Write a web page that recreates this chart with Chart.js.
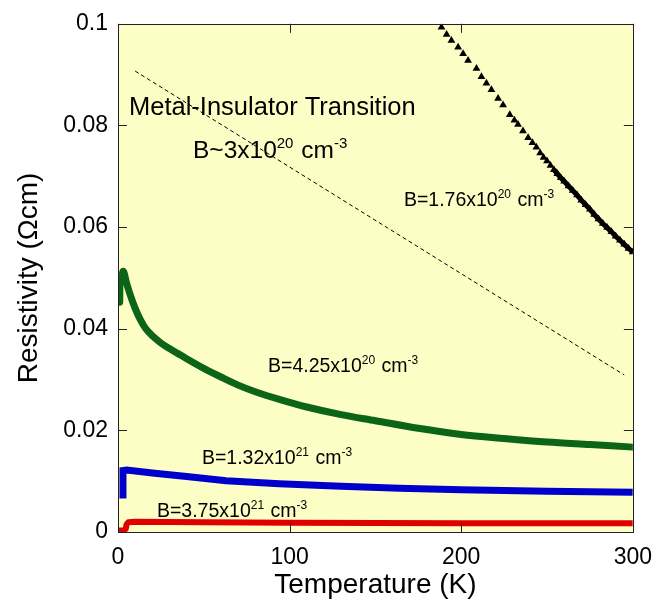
<!DOCTYPE html>
<html>
<head>
<meta charset="utf-8">
<script src="https://cdn.jsdelivr.net/npm/chart.js@4.4.0/dist/chart.umd.min.js"></script>
<style>
  html, body { margin: 0; padding: 0; background: #fff; }
  #wrap { width: 664px; height: 606px; }
</style>
</head>
<body>
<div id="wrap"><canvas id="rhoChart" width="664" height="606"></canvas></div>
<script>
// 축 눈금
const xTicks = [0, 100, 200, 300];
const yTicks = [0, 0.02, 0.04, 0.06, 0.08, 0.1];

// B=1.76x10^20 (삼각형)
const blackT = [188.5, 191.5, 194.3, 198.2, 201.1, 204.0, 208.9, 211.8, 214.7, 217.6, 221.5, 224.4,
    228.3, 231.0, 233.1, 236.0, 239.0, 241.5, 243.8, 246.0, 248.0, 250.0, 252.0, 254.0, 256.0,
    258.0, 260.0, 262.5, 265.0, 267.5, 270.0, 272.5, 275.0, 277.5, 280.0, 282.5, 285.0, 287.5,
    290.0, 292.5, 295.0, 297.5, 300.0];
const blackR = [0.0993, 0.0979, 0.0967, 0.0954, 0.0941, 0.0928, 0.0912, 0.0896, 0.0883, 0.0870, 0.0853, 0.0840,
    0.0821, 0.0810, 0.0802, 0.0789, 0.0776, 0.0766, 0.0757, 0.0746, 0.0737, 0.0730, 0.0721, 0.0713, 0.0705,
    0.0697, 0.0690, 0.0681, 0.0672, 0.0663, 0.0653, 0.0644, 0.0635, 0.0625, 0.0616, 0.0607, 0.0599, 0.0591,
    0.0582, 0.0574, 0.0566, 0.0558, 0.0551];

// B=4.25x10^20
const greenT = [1.0, 1.2, 2.0, 3.0, 5.0, 7.0, 10, 13, 16, 20, 25, 30, 35, 40, 50, 60, 70, 80, 95,
    110, 130, 150, 175, 200, 225, 250, 275, 300];
const greenR = [0.0452, 0.0500, 0.0500, 0.0513, 0.0490, 0.0468, 0.0440, 0.0418, 0.0401, 0.0386, 0.0372,
    0.0361, 0.0351, 0.0341, 0.0322, 0.0305, 0.0289, 0.0276, 0.0260, 0.0246, 0.0231, 0.0219, 0.0204,
    0.0192, 0.0184, 0.0177, 0.0172, 0.0167];

// B=1.32x10^21
const blueT = [2.9, 2.9, 5, 20, 40, 63, 94, 130, 164, 200, 250, 300];
const blueR = [0.0066, 0.0121, 0.0122, 0.0116, 0.0109, 0.0101, 0.0095, 0.0090, 0.0086, 0.0083, 0.0080, 0.0078];

// B=3.75x10^21
const redT = [0.5, 3.0, 4.5, 5.0, 6.0, 10, 50, 100, 200, 300];
const redR = [0.0003, 0.0003, 0.0006, 0.0015, 0.0019, 0.0020, 0.0019, 0.0018, 0.0017, 0.0017];

// 금속-절연체 전이 경계 (점선)
const mitT = [10, 295];
const mitR = [0.0907, 0.0309];

// 주석: 본문/위첨자 번갈아
const notes = [
    { t: 6.4, r: 0.0821, parts: ['Metal-Insulator Transition'], size: 25.5 },
    { t: 43.7, r: 0.0735, parts: ['B~3x10', '20', ' cm', '-3'], size: 24.5 },
    { t: 166.6, r: 0.0642, parts: ['B=1.76x10', '20', ' cm', '-3'], size: 19.5 },
    { t: 87.4, r: 0.0315, parts: ['B=4.25x10', '20', ' cm', '-3'], size: 19.5 },
    { t: 48.9, r: 0.0134, parts: ['B=1.32x10', '21', ' cm', '-3'], size: 19.5 },
    { t: 22.7, r: 0.0029, parts: ['B=3.75x10', '21', ' cm', '-3'], size: 19.5 }
];

const FONT = '"Liberation Sans", Arial, Helvetica, sans-serif';

function pts(xs, ys) {
    return xs.map(function(x, i) { return { x: x, y: ys[i] }; });
}

const plotBg = {
    id: 'plotBg',
    beforeDraw: function(chart) {
        const a = chart.chartArea, ctx = chart.ctx;
        ctx.save();
        ctx.fillStyle = '#fdfdc6';
        ctx.fillRect(a.left, a.top, a.right - a.left, a.bottom - a.top);
        ctx.restore();
    }
};

// 안쪽 눈금 + 테두리
const frameTicks = {
    id: 'frameTicks',
    afterDatasetsDraw: function(chart) {
        const a = chart.chartArea, ctx = chart.ctx;
        const sx = chart.scales.x, sy = chart.scales.y;
        const len = 9;
        ctx.save();
        ctx.strokeStyle = '#222';
        ctx.lineWidth = 1;
        ctx.beginPath();
        xTicks.forEach(function(v) {
            const px = Math.round(sx.getPixelForValue(v)) + 0.5;
            ctx.moveTo(px, a.bottom); ctx.lineTo(px, a.bottom - len);
            ctx.moveTo(px, a.top); ctx.lineTo(px, a.top + len);
        });
        yTicks.forEach(function(v) {
            const py = Math.round(sy.getPixelForValue(v)) + 0.5;
            ctx.moveTo(a.left, py); ctx.lineTo(a.left + len, py);
            ctx.moveTo(a.right, py); ctx.lineTo(a.right - len, py);
        });
        ctx.stroke();
        ctx.strokeRect(Math.round(a.left) + 0.5, Math.round(a.top) + 0.5,
            Math.round(a.right - a.left), Math.round(a.bottom - a.top));
        ctx.restore();
    }
};

// 위첨자 포함 주석
const noteText = {
    id: 'noteText',
    afterDatasetsDraw: function(chart) {
        const ctx = chart.ctx;
        const sx = chart.scales.x, sy = chart.scales.y;
        ctx.save();
        ctx.fillStyle = '#000';
        ctx.textBaseline = 'alphabetic';
        ctx.textAlign = 'left';
        notes.forEach(function(n) {
            let x = sx.getPixelForValue(n.t);
            const y = sy.getPixelForValue(n.r);
            n.parts.forEach(function(p, i) {
                const sup = i % 2 === 1;
                const fs = sup ? Math.round(n.size * 0.62) : n.size;
                ctx.font = fs + 'px ' + FONT;
                ctx.fillText(p, x, sup ? y - n.size * 0.42 : y);
                x += ctx.measureText(p).width + (sup ? 1 : 0);
            });
        });
        ctx.restore();
    }
};

const ctx = document.getElementById('rhoChart').getContext('2d');
new Chart(ctx, {
    type: 'scatter',
    data: {
        datasets: [
            {
                label: 'MIT',
                data: pts(mitT, mitR),
                showLine: true,
                borderColor: '#000',
                borderWidth: 1,
                borderDash: [4, 3],
                pointRadius: 0
            },
            {
                label: 'B=3.75x10^21',
                data: pts(redT, redR),
                showLine: true,
                borderColor: '#e00000',
                borderWidth: 6,
                borderJoinStyle: 'round',
                pointRadius: 0
            },
            {
                label: 'B=1.32x10^21',
                data: pts(blueT, blueR),
                showLine: true,
                borderColor: '#0000cc',
                borderWidth: 7,
                pointRadius: 0
            },
            {
                label: 'B=4.25x10^20',
                data: pts(greenT, greenR),
                showLine: true,
                borderColor: '#0b6418',
                borderWidth: 7,
                borderJoinStyle: 'round',
                borderCapStyle: 'round',
                cubicInterpolationMode: 'monotone',
                pointRadius: 0
            },
            {
                label: 'B=1.76x10^20',
                data: pts(blackT, blackR),
                showLine: true,
                borderColor: '#000',
                borderWidth: 5,
                segment: {
                    borderColor: function(c) { return c.p0.parsed.x >= 253 ? '#000' : 'rgba(0,0,0,0)'; }
                },
                pointStyle: 'triangle',
                pointRadius: 4.5,
                pointBackgroundColor: '#000',
                pointBorderColor: '#000',
                pointBorderWidth: 0
            }
        ]
    },
    options: {
        responsive: false,
        animation: false,
        events: [],
        layout: { padding: { top: 18, right: 31, left: 0, bottom: 0 } },
        plugins: {
            legend: { display: false },
            tooltip: { enabled: false }
        },
        scales: {
            x: {
                type: 'linear',
                min: 0,
                max: 300,
                afterBuildTicks: function(s) { s.ticks = xTicks.map(function(v) { return { value: v }; }); },
                afterFit: function(s) { s.height = 74; },
                grid: { display: false, drawTicks: false },
                border: { display: false },
                ticks: {
                    padding: 12,
                    color: '#000',
                    font: { family: FONT, size: 23 },
                    maxRotation: 0
                },
                title: {
                    display: true,
                    text: 'Temperature (K)',
                    color: '#000',
                    font: { family: FONT, size: 28 },
                    padding: { top: 0 }
                }
            },
            y: {
                type: 'linear',
                min: 0,
                max: 0.1,
                afterBuildTicks: function(s) { s.ticks = yTicks.map(function(v) { return { value: v }; }); },
                afterFit: function(s) { s.width = 118; },
                grid: { display: false, drawTicks: false },
                border: { display: false },
                ticks: {
                    padding: 10,
                    color: '#000',
                    font: { family: FONT, size: 23 },
                    callback: function(v) { return String(+v.toFixed(2)); }
                },
                title: {
                    display: true,
                    text: 'Resistivity (Ωcm)',
                    color: '#000',
                    font: { family: FONT, size: 28 },
                    padding: { bottom: 0, top: 12 }
                }
            }
        }
    },
    plugins: [plotBg, frameTicks, noteText]
});
</script>
</body>
</html>
